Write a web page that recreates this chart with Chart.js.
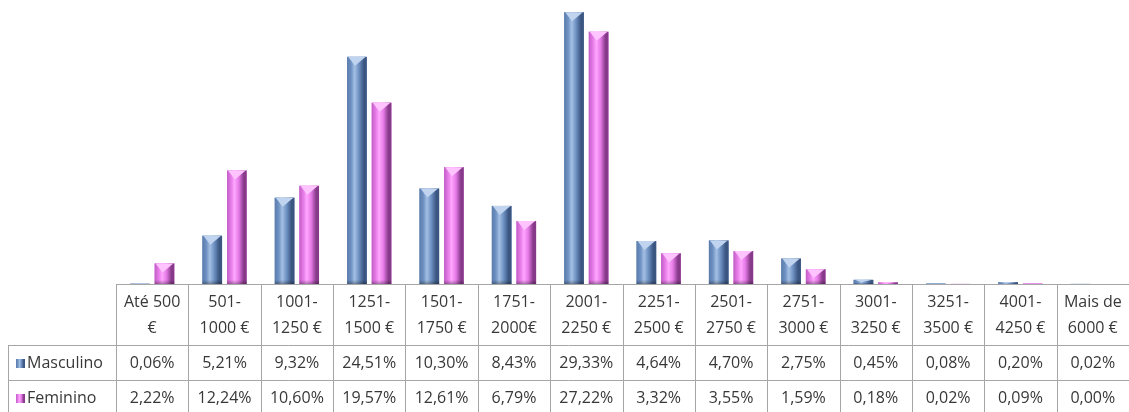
<!DOCTYPE html>
<html>
<head>
<meta charset="utf-8">
<script src="https://cdn.jsdelivr.net/npm/chart.js@4/dist/chart.umd.min.js"></script>
<style>
  body { margin: 0; background: #fff; }
  #wrap { width: 1129px; height: 412px; position: relative; }
</style>
</head>
<body>
<div id="wrap"><canvas id="myChart"></canvas></div>
<script>
// salary bands (header row of the table)
var bandLabels = [
  ["Até 500", "€"], ["501-", "1000 €"], ["1001-", "1250 €"], ["1251-", "1500 €"],
  ["1501-", "1750 €"], ["1751-", "2000€"], ["2001-", "2250 €"], ["2251-", "2500 €"],
  ["2501-", "2750 €"], ["2751-", "3000 €"], ["3001-", "3250 €"], ["3251-", "3500 €"],
  ["4001-", "4250 €"], ["Mais de", "6000 €"]
];
var seriesNames = ["Masculino", "Feminino"];
var masculino = [0.06, 5.21, 9.32, 24.51, 10.30, 8.43, 29.33, 4.64, 4.70, 2.75, 0.45, 0.08, 0.20, 0.02];
var feminino  = [2.22, 12.24, 10.60, 19.57, 12.61, 6.79, 27.22, 3.32, 3.55, 1.59, 0.18, 0.02, 0.09, 0.00];

// shades for the "cylinder" look: edge, light, base, dark
var shades = [
  { edge: '#5b7cab', light: '#a4bfe4', base: '#6d91c2', dark: '#3c5682', tip: '#c0d4ef' },
  { edge: '#c25ec6', light: '#ffa6ff', base: '#e57ae6', dark: '#873a8a', tip: '#ffc4ff' }
];

var tableFont = '16px "Open Sans", sans-serif';
var lineColor = '#a6a6a6';
var textColor = '#383838';

function fmt(v) {
  return v.toFixed(2).replace('.', ',') + '%';
}

function barGradient(ctx, left, right, s) {
  var g = ctx.createLinearGradient(left, 0, right, 0);
  g.addColorStop(0, s.edge);
  g.addColorStop(0.2, s.base);
  g.addColorStop(0.38, s.light);
  g.addColorStop(0.6, s.base);
  g.addColorStop(0.85, s.dark);
  g.addColorStop(1, s.dark);
  return g;
}

// paints the shaded bars over the plain ones
var bevelBars = {
  id: 'bevelBars',
  afterDatasetsDraw: function(chart) {
    var ctx = chart.ctx;
    ctx.save();
    chart.data.datasets.forEach(function(ds, di) {
      var s = shades[di];
      chart.getDatasetMeta(di).data.forEach(function(bar) {
        var p = bar.getProps(['x', 'y', 'base', 'width'], true);
        var h = p.base - p.y;
        if (h < 1) return;
        var left = p.x - p.width / 2, right = p.x + p.width / 2;
        ctx.fillStyle = barGradient(ctx, left, right, s);
        ctx.fillRect(left, p.y, p.width, h);
        // light wedge on top
        var tipH = Math.min(9, h * 0.6);
        ctx.fillStyle = s.tip;
        ctx.beginPath();
        ctx.moveTo(left + 1, p.y);
        ctx.lineTo(right - 1, p.y);
        ctx.lineTo(p.x - p.width * 0.1, p.y + tipH);
        ctx.closePath();
        ctx.fill();
        // darker foot
        var fh = Math.min(4, h * 0.3);
        var fg = ctx.createLinearGradient(0, p.base - fh, 0, p.base);
        fg.addColorStop(0, 'rgba(0,0,0,0)');
        fg.addColorStop(1, 'rgba(0,0,0,0.3)');
        ctx.fillStyle = fg;
        ctx.fillRect(left, p.base - fh, p.width, fh);
      });
    });
    ctx.restore();
  }
};

// data table under the plot: header row, one row per series
var dataTable = {
  id: 'dataTable',
  afterDraw: function(chart) {
    var ctx = chart.ctx;
    var xs = chart.scales.x;
    var area = chart.chartArea;
    var n = bandLabels.length;
    var step = (area.right - area.left) / n;
    var top = area.bottom;
    var row1 = top + 61, row2 = row1 + 35, bottom = chart.height;
    var legendLeft = 8;

    ctx.save();
    ctx.strokeStyle = lineColor;
    ctx.lineWidth = 1;
    ctx.beginPath();
    // horizontal rules
    ctx.moveTo(area.left, top + 0.5); ctx.lineTo(area.right, top + 0.5);
    ctx.moveTo(legendLeft, row1 + 0.5); ctx.lineTo(area.right, row1 + 0.5);
    ctx.moveTo(legendLeft, row2 + 0.5); ctx.lineTo(area.right, row2 + 0.5);
    // vertical rules
    for (var i = 0; i <= n; i++) {
      var vx = Math.round(area.left + i * step) + 0.5;
      ctx.moveTo(vx, top); ctx.lineTo(vx, bottom);
    }
    ctx.moveTo(legendLeft + 0.5, row1); ctx.lineTo(legendLeft + 0.5, bottom);
    ctx.stroke();

    ctx.font = tableFont;
    ctx.fillStyle = textColor;
    ctx.textAlign = 'center';
    ctx.textBaseline = 'middle';
    for (var j = 0; j < n; j++) {
      var cx = xs.getPixelForValue(j);
      ctx.fillText(bandLabels[j][0], cx, top + 18);
      ctx.fillText(bandLabels[j][1], cx, top + 44);
      ctx.fillText(fmt(masculino[j]), cx, row1 + 18);
      ctx.fillText(fmt(feminino[j]), cx, row2 + 18);
    }

    // legend keys in the first column
    var rows = [row1 + 18, row2 + 18];
    ctx.textAlign = 'left';
    seriesNames.forEach(function(name, k) {
      var ky = rows[k];
      ctx.fillStyle = barGradient(ctx, 16, 25, shades[k]);
      ctx.fillRect(16, ky - 4, 9, 9);
      ctx.fillStyle = textColor;
      ctx.fillText(name, 27, ky);
    });
    ctx.restore();
  }
};

var ctx = document.getElementById('myChart').getContext('2d');

var chart = new Chart(ctx, {
  type: 'bar',
  data: {
    labels: bandLabels,
    datasets: [
      { label: seriesNames[0], data: masculino, backgroundColor: shades[0].base,
        categoryPercentage: 0.68, barPercentage: 0.8 },
      { label: seriesNames[1], data: feminino, backgroundColor: shades[1].base,
        categoryPercentage: 0.68, barPercentage: 0.8 }
    ]
  },
  options: {
    responsive: true,
    maintainAspectRatio: false,
    animation: false,
    layout: { padding: { left: 116, right: 0, top: 6, bottom: 128 } },
    plugins: {
      legend: { display: false },
      tooltip: { enabled: false }
    },
    scales: {
      x: { display: false },
      y: { display: false, min: 0, max: 30 }
    }
  },
  plugins: [bevelBars, dataTable]
});
</script>
</body>
</html>
